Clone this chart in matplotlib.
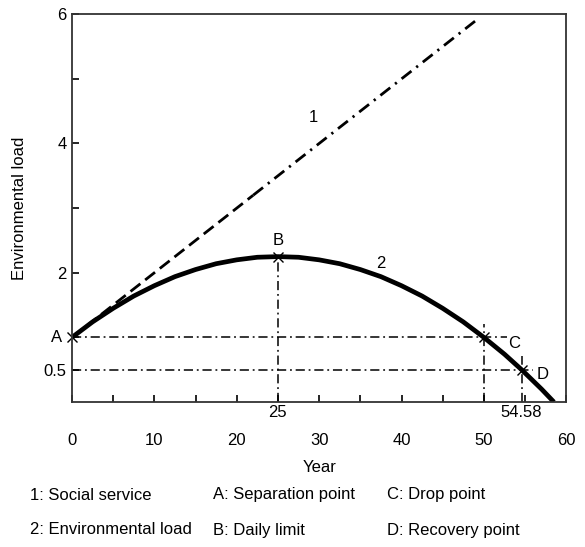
import matplotlib
matplotlib.use("Agg")
import matplotlib.pyplot as plt
from matplotlib.transforms import blended_transform_factory

plt.rcParams['font.family'] = ['Liberation Sans', 'DejaVu Sans']
plt.rcParams['font.size'] = 12

# curve 2: environmental load
years = [0, 2.5, 5, 7.5, 10, 12.5, 15, 17.5, 20, 22.5, 25, 27.5, 30, 32.5,
         35, 37.5, 40, 42.5, 45, 47.5, 50, 52.5, 54.58, 57, 58.5]
env_load = [1.0, 1.24, 1.45, 1.64, 1.8, 1.94, 2.05, 2.14, 2.2, 2.24, 2.25, 2.24,
            2.2, 2.14, 2.05, 1.94, 1.8, 1.64, 1.45, 1.24, 1.0, 0.74, 0.5, 0.2, 0.0]

# line 1: social service (dashed part, then dash-dot part)
social_x = [0, 22, 49.5]
social_y = [1.0, 3.2, 5.95]

# key points A, B, C, D
pt_names = ['A', 'B', 'C', 'D']
pt_x = [0, 25, 50, 54.58]
pt_y = [1.0, 2.25, 1.0, 0.5]

legend_rows = [['1: Social service', 'A: Separation point', 'C: Drop point'],
               ['2: Environmental load', 'B: Daily limit', 'D: Recovery point']]

fig = plt.figure(figsize=(5.85, 5.47), dpi=100)
ax = fig.add_axes([0.123, 0.265, 0.845, 0.709])

dashdot = (0, (6, 2.5, 1.2, 2.5))

# reference lines
ax.plot([0, 52.8], [1.0, 1.0], color='black', lw=1.1, ls=dashdot)
ax.plot([0, 56], [0.5, 0.5], color='black', lw=1.1, ls=dashdot)
ax.plot([25, 25], [0, 2.25], color='black', lw=1.1, ls=dashdot)
ax.plot([50, 50], [0, 1.2], color='black', lw=1.1, ls=dashdot)
ax.plot([54.58, 54.58], [0, 0.72], color='black', lw=1.1, ls=dashdot)

# line 1
ax.plot(social_x[:2], social_y[:2], color='black', lw=2.0, ls=(0, (4.5, 2.2)))
ax.plot(social_x[1:], social_y[1:], color='black', lw=2.0, ls=(0, (4.5, 2.2, 0.8, 2.2)))

# curve 2
ax.plot(years, env_load, color='black', lw=3.4, solid_capstyle='butt')

ax.plot(pt_x, pt_y, ls='none', marker='x', ms=7, mew=1.0, color='black', clip_on=False)

ax.text(-1.2, 1.0, 'A', ha='right', va='center')
ax.text(25, 2.38, 'B', ha='center', va='bottom')
ax.text(52.9, 0.91, 'C', ha='left', va='center')
ax.text(56.4, 0.43, 'D', ha='left', va='center')
ax.text(29.3, 4.4, '1', ha='center', va='center')
ax.text(37.5, 2.15, '2', ha='center', va='center')

ax.set_xlim(0, 60)
ax.set_ylim(0, 6)

ax.set_xticks([0, 10, 20, 30, 40, 50, 60])
ax.set_xticks([5, 15, 25, 35, 45, 55], minor=True)
ax.set_yticks([0.5, 2, 4, 6])
ax.set_yticklabels(['0.5', '2', '4', '6'])
ax.set_yticks([1, 3, 5], minor=True)
ax.tick_params(axis='x', which='both', direction='in', length=5, width=1.2, pad=22, labelsize=12)
ax.tick_params(axis='y', which='both', direction='in', length=5, width=1.2, pad=4, labelsize=12)

trans = blended_transform_factory(ax.transData, ax.transAxes)
ax.text(25, -0.008, '25', transform=trans, ha='center', va='top')
ax.text(54.58, -0.008, '54.58', transform=trans, ha='center', va='top')

for s in ax.spines.values():
    s.set_linewidth(1.3)
    s.set_color('#333333')

ax.set_xlabel('Year', labelpad=9)
ax.set_ylabel('Environmental load', labelpad=12)

xs = [30 / 585, 213 / 585, 387 / 585]
ys = [1 - 495 / 547, 1 - 530 / 547]
for r, row in enumerate(legend_rows):
    for c, txt in enumerate(row):
        fig.text(xs[c], ys[r], txt, ha='left', va='center', fontsize=12)

fig.savefig('out.png', dpi=100)
